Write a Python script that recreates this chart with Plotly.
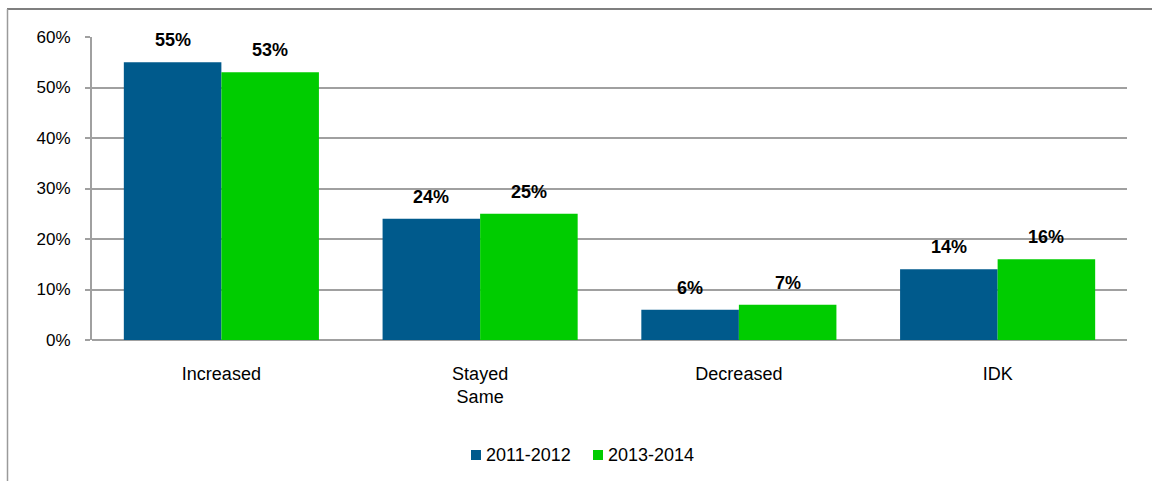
import plotly.graph_objects as go

categories = ["Increased", "Stayed<br>Same", "Decreased", "IDK"]
series_names = ["2011-2012", "2013-2014"]
values_2011_2012 = [55, 24, 6, 14]
values_2013_2014 = [53, 25, 7, 16]
y_ticks = [0, 10, 20, 30, 40, 50, 60]
y_tick_labels = ["0%", "10%", "20%", "30%", "40%", "50%", "60%"]

colors = ["#005A8C", "#00CC00"]
font_family = "Liberation Sans, Arial, sans-serif"

# plot area in pixels (used to place the frame and the legend keys)
W, H = 1152, 481
ML, MR, MT, MB = 92, 25, 37, 141
PW, PH = W - ML - MR, H - MT - MB


def px_x(p):
    return (p - ML) / PW


def px_y(p):
    return (H - MB - p) / PH


fig = go.Figure()
all_vals = [values_2011_2012, values_2013_2014]
for name, vals, col in zip(series_names, all_vals, colors):
    fig.add_trace(go.Bar(
        x=categories, y=vals, name=name,
        marker=dict(color=col, line=dict(width=0)),
        showlegend=False,
    ))

# value labels above each bar
bar_px = 97.5
for offset, vals in zip([-bar_px / 2, bar_px / 2], all_vals):
    for cat, v in zip(categories, vals):
        fig.add_annotation(
            x=cat, y=v, text=f"<b>{v}%</b>", showarrow=False,
            xshift=offset, yshift=22, yanchor="middle",
            font=dict(size=18, color="#000", family=font_family),
        )

# legend: small square keys with the series names beside them
legend_keys = [(471, series_names[0], colors[0]), (593, series_names[1], colors[1])]
for kx, label, col in legend_keys:
    fig.add_shape(type="rect", xref="paper", yref="paper",
                  x0=px_x(kx), x1=px_x(kx + 10), y0=px_y(460), y1=px_y(450),
                  fillcolor=col, line=dict(width=0))
    fig.add_annotation(xref="paper", yref="paper", x=px_x(kx + 13), y=px_y(455),
                       text=label, showarrow=False, xanchor="left", yanchor="middle",
                       font=dict(size=18, color="#000", family=font_family))

# outer frame of the chart
fig.add_shape(type="line", xref="paper", yref="paper",
              x0=px_x(7), x1=px_x(W + 10), y0=px_y(9), y1=px_y(9),
              line=dict(color="#555555", width=1.5))
fig.add_shape(type="line", xref="paper", yref="paper",
              x0=px_x(7.5), x1=px_x(7.5), y0=px_y(H + 10), y1=px_y(9),
              line=dict(color="#9a9a9a", width=1.5))

fig.update_layout(
    width=W, height=H,
    margin=dict(l=ML, r=MR, t=MT, b=MB),
    paper_bgcolor="white", plot_bgcolor="white",
    barmode="group", bargap=0.246, bargroupgap=0,
    font=dict(family=font_family, size=18, color="#000"),
    showlegend=False,
    xaxis=dict(
        showgrid=False, showline=False, ticks="",
        tickfont=dict(size=18), ticklabelstandoff=21,
    ),
    yaxis=dict(
        range=[0, 60], tickvals=y_ticks, ticktext=y_tick_labels,
        showgrid=True, gridcolor="#a0a0a0", gridwidth=2,
        zeroline=True, zerolinecolor="#a0a0a0", zerolinewidth=2,
        showline=True, linecolor="#a0a0a0", linewidth=2,
        ticks="outside", ticklen=5, tickcolor="#a0a0a0", tickwidth=2,
        tickfont=dict(size=17), ticklabelstandoff=11,
    ),
)

fig.write_html("out.html")
